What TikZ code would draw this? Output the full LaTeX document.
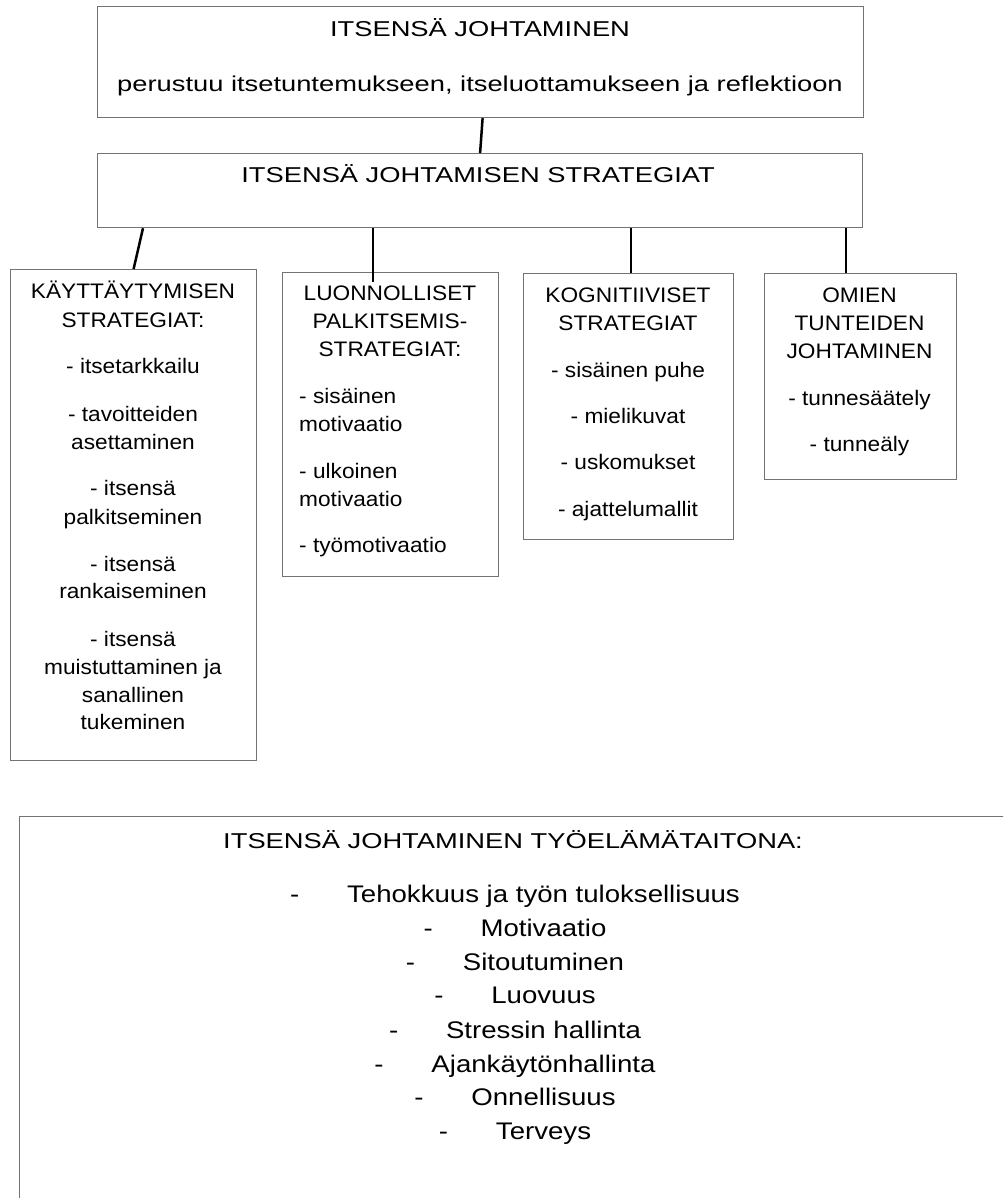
\documentclass[tikz,border=0pt]{standalone}
\usepackage{fontspec}
\setmainfont{Liberation Sans}
\newfontfamily\widefont[FakeStretch=1.27]{Liberation Sans}
\newfontfamily\midfont[FakeStretch=1.15]{Liberation Sans}
\newfontfamily\kidfont[FakeStretch=1.08]{Liberation Sans}
\usetikzlibrary{calc}
\begin{document}
\begin{tikzpicture}[x=1pt,y=-1pt,
  box/.style={draw=black!55, line width=1.2pt, rectangle, anchor=north west, inner sep=0pt},
  conn/.style={draw=black, line width=2.5pt},
  thinconn/.style={draw=black, line width=2pt},
  toptxt/.style={anchor=base, inner sep=0pt, font=\widefont\fontsize{21.5}{26}\selectfont},
  kidtxt/.style={anchor=base, inner sep=0pt, font=\kidfont\fontsize{21}{26}\selectfont},
  itemtxt/.style={anchor=base, inner sep=0pt, font=\midfont\fontsize{24}{28}\selectfont},
]
\clip (0,0) rectangle (1003,1198);
\fill[white] (0,0) rectangle (1003,1198);

% boxes
\node[box, minimum width=766pt, minimum height=111pt] (top) at (97,6) {};
\node[box, minimum width=765pt, minimum height=74pt] (strat) at (97,153) {};
\node[box, minimum width=246pt, minimum height=491pt] (k1) at (10,269) {};
\node[box, minimum width=216pt, minimum height=304pt] (k2) at (282,272) {};
\node[box, minimum width=210pt, minimum height=266pt] (k3) at (523,273) {};
\node[box, minimum width=192pt, minimum height=206pt] (k4) at (764,273) {};
\node[box, minimum width=1000pt, minimum height=420pt] (work) at (19,816) {};

% top texts
\node[toptxt] (t1) at (480,37) {ITSENSÄ JOHTAMINEN};
\node[toptxt] (t2) at (480,92) {perustuu itsetuntemukseen, itseluottamukseen ja reflektioon};
\node[toptxt] (s1) at (478,183) {ITSENSÄ JOHTAMISEN STRATEGIAT};

% box 1
\foreach \y/\t [count=\i] in {298/KÄYTTÄYTYMISEN, 327/STRATEGIAT:, 373/- itsetarkkailu,
  421/- tavoitteiden, 449/asettaminen, 495/- itsensä, 524/palkitseminen,
  571/- itsensä, 598/rankaiseminen, 646/- itsensä, 674/muistuttaminen ja,
  702/sanallinen, 729/tukeminen}
  \node[kidtxt] (ka\i) at (133,\y) {\t};

% box 2
\foreach \y/\t [count=\i] in {300/LUONNOLLISET, 328/PALKITSEMIS-, 356/STRATEGIAT:}
  \node[kidtxt] (kb\i) at (390,\y) {\t};
\foreach \y/\t [count=\i] in {403/- sisäinen, 431/motivaatio, 478/- ulkoinen,
  506/motivaatio, 552/- työmotivaatio}
  \node[kidtxt, anchor=base west] (kc\i) at (299,\y) {\t};

% box 3
\foreach \y/\t [count=\i] in {302/KOGNITIIVISET, 330/STRATEGIAT, 377/- sisäinen puhe,
  423/- mielikuvat, 469/- uskomukset, 516/- ajattelumallit}
  \node[kidtxt] (kd\i) at (628,\y) {\t};

% box 4
\foreach \y/\t [count=\i] in {302/OMIEN, 330/TUNTEIDEN, 358/JOHTAMINEN,
  405/- tunnesäätely, 451/- tunneäly}
  \node[kidtxt] (ke\i) at (859.5,\y) {\t};

% bottom box
\node[toptxt] (w0) at (513,848) {ITSENSÄ JOHTAMINEN TYÖELÄMÄTAITONA:};
\foreach \y/\t [count=\i] in {902/Tehokkuus ja työn tuloksellisuus, 936/Motivaatio,
  970/Sitoutuminen, 1003/Luovuus, 1038/Stressin hallinta, 1072/Ajankäytönhallinta,
  1105/Onnellisuus, 1139/Terveys}
  \node[itemtxt] (w\i) at (515,\y) {\makebox[57pt][l]{-}\t};

% connectors
\draw[conn] ([xshift=2pt]top.south) -- (strat.north);
\coordinate (c1) at ([xshift=46pt]strat.south west);
\draw[conn] (c1) -- (k1.north);
\coordinate (c2) at ([xshift=-18pt]k2.north);
\draw[thinconn] (c2 |- strat.south) -- ([yshift=-10pt]c2);
\coordinate (c3) at ([xshift=2pt]k3.north);
\draw[thinconn] (c3 |- strat.south) -- (c3);
\coordinate (c4) at ([xshift=-15pt]k4.north);
\draw[thinconn] (c4 |- strat.south) -- (c4);
\end{tikzpicture}
\end{document}
